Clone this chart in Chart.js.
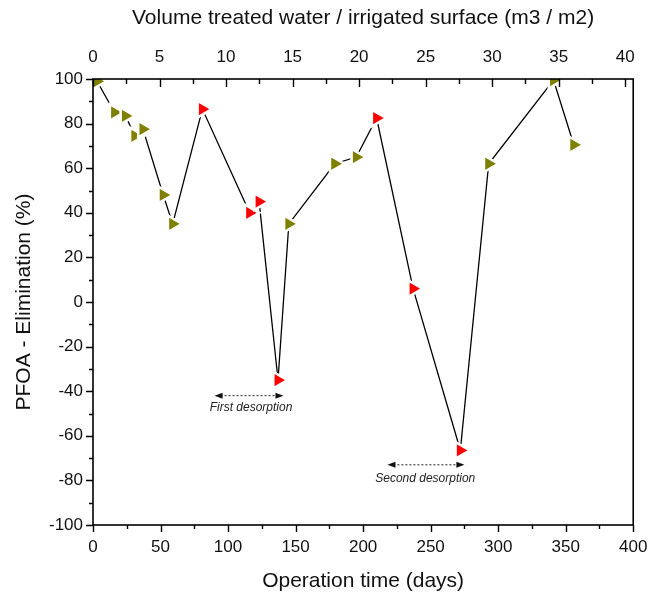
<!DOCTYPE html>
<html>
<head>
<meta charset="utf-8">
<script src="https://cdn.jsdelivr.net/npm/chart.js@4.4.1/dist/chart.umd.min.js"></script>
<style>
  html, body { margin: 0; padding: 0; background: #fff; }
  canvas { display: block; }
</style>
</head>
<body>
<canvas id="chart" width="660" height="592"></canvas>
<script>
// sampling dates (operation time, days) and PFOA elimination (%)
const days = [3, 16, 24, 31, 37, 52, 59, 81, 116, 123, 137, 145, 179, 195, 210, 237, 272, 293, 341, 356];
const elimination = [99, 85, 83.5, 74.5, 77.5, 48, 35, 86.5, 40, 45, -35, 35, 62, 65, 82.5, 6, -66.5, 62, 99.5, 70.5];
// samplings that fall in a desorption phase are drawn red
const desorption = [false, false, false, false, false, false, false, true, true, true, true,
                    false, false, false, true, true, true, false, false, false];

const OLIVE = "#808000";
const RED = "#ff0000";
const FONT = "'Liberation Sans', Arial, sans-serif";

// arrows marking the two desorption periods (data units)
const arrows = [
  { text: "First desorption", from: 90, to: 141, y: -42, tx: 117, ty: -47.5 },
  { text: "Second desorption", from: 218, to: 275, y: -73, tx: 246, ty: -79 }
];

const points = days.map((d, i) => ({ x: d, y: elimination[i] }));
const pointColors = desorption.map(d => d ? RED : OLIVE);

function arrowHead(ctx, x, y, dir) {
  ctx.beginPath();
  ctx.moveTo(x, y);
  ctx.lineTo(x - dir * 8, y - 3);
  ctx.lineTo(x - dir * 8, y + 3);
  ctx.closePath();
  ctx.fill();
}

// axis frame, Origin-style tick marks and the desorption arrows
const framePlugin = {
  id: "frame",
  afterDraw(chart) {
    const ctx = chart.ctx;
    const a = chart.chartArea;
    const sx = chart.scales.x, sy = chart.scales.y, st = chart.scales.x2;
    ctx.save();
    ctx.strokeStyle = "#000";
    ctx.lineWidth = 1.6;
    ctx.strokeRect(a.left, a.top, a.right - a.left, a.bottom - a.top);

    ctx.lineWidth = 1.4;
    ctx.beginPath();
    for (let v = 0; v <= 400; v += 25) {
      const px = Math.round(sx.getPixelForValue(v)) + 0.5;
      const len = v % 50 === 0 ? 7 : 4;
      ctx.moveTo(px, a.bottom);
      ctx.lineTo(px, a.bottom + len);
    }
    for (let v = -100; v <= 100; v += 10) {
      const py = Math.round(sy.getPixelForValue(v)) + 0.5;
      const len = v % 20 === 0 ? 7 : 4;
      ctx.moveTo(a.left, py);
      ctx.lineTo(a.left - len, py);
    }
    for (let v = 0; v <= 40; v += 2.5) {
      const px = Math.round(st.getPixelForValue(v)) + 0.5;
      const len = v % 5 === 0 ? 8 : 5;
      ctx.moveTo(px, a.top);
      ctx.lineTo(px, a.top + len);
    }
    ctx.stroke();

    arrows.forEach(ar => {
      const x1 = sx.getPixelForValue(ar.from);
      const x2 = sx.getPixelForValue(ar.to);
      const y = sy.getPixelForValue(ar.y);
      ctx.strokeStyle = "#222";
      ctx.fillStyle = "#111";
      ctx.lineWidth = 1;
      ctx.setLineDash([2, 2]);
      ctx.beginPath();
      ctx.moveTo(x1 + 6, y);
      ctx.lineTo(x2 - 6, y);
      ctx.stroke();
      ctx.setLineDash([]);
      arrowHead(ctx, x1, y, -1);
      arrowHead(ctx, x2, y, 1);
      ctx.font = "italic 12px " + FONT;
      ctx.fillStyle = "#222";
      ctx.textAlign = "center";
      ctx.textBaseline = "middle";
      ctx.fillText(ar.text, sx.getPixelForValue(ar.tx), sy.getPixelForValue(ar.ty));
    });
    ctx.restore();
  }
};

const hiddenGrid = { display: true, drawOnChartArea: false, drawTicks: false, color: "rgba(0,0,0,0)" };
const tickFont = { family: FONT, size: 17, lineHeight: 1.2 };
const titleFont = { family: FONT, size: 21, lineHeight: 1 };

new Chart(document.getElementById("chart"), {
  type: "line",
  data: {
    datasets: [{
      data: points,
      borderColor: "#000",
      borderWidth: 1.3,
      tension: 0,
      clip: 0,
      pointStyle: "triangle",
      rotation: 90,
      // white outline leaves a small gap between the line and each marker
      pointRadius: 9.5,
      pointBorderWidth: 2.5,
      pointBackgroundColor: pointColors,
      pointBorderColor: "#fff"
    }]
  },
  options: {
    responsive: false,
    animation: false,
    events: [],
    layout: { padding: { left: 0, right: 16, top: 0, bottom: 0 } },
    plugins: { legend: { display: false }, tooltip: { enabled: false } },
    scales: {
      x: {
        type: "linear",
        position: "bottom",
        min: 0, max: 400,
        grid: hiddenGrid,
        border: { display: false },
        ticks: { stepSize: 50, padding: 12.6, font: tickFont, color: "#111", maxRotation: 0 },
        title: { display: true, text: "Operation time (days)", font: titleFont, color: "#111",
                 padding: { top: 0, bottom: 0.5 } },
        afterFit: s => { s.height = 67; }
      },
      x2: {
        type: "linear",
        position: "top",
        min: 0, max: 40.6,
        grid: hiddenGrid,
        border: { display: false },
        ticks: { stepSize: 5, includeBounds: false, padding: 11.5, font: tickFont, color: "#111", maxRotation: 0 },
        title: { display: true, text: "Volume treated water / irrigated surface (m3 / m2)", font: titleFont,
                 color: "#111", padding: { top: 8, bottom: 0 } },
        afterFit: s => { s.height = 79; }
      },
      y: {
        type: "linear",
        position: "left",
        min: -100, max: 100,
        grid: hiddenGrid,
        border: { display: false },
        ticks: { stepSize: 20, padding: 10, font: tickFont, color: "#111" },
        title: { display: true, text: "PFOA - Elimination (%)", font: titleFont, color: "#111",
                 padding: { top: 14, bottom: 0 } },
        afterFit: s => { s.width = 93; }
      }
    }
  },
  plugins: [framePlugin]
});
</script>
</body>
</html>
